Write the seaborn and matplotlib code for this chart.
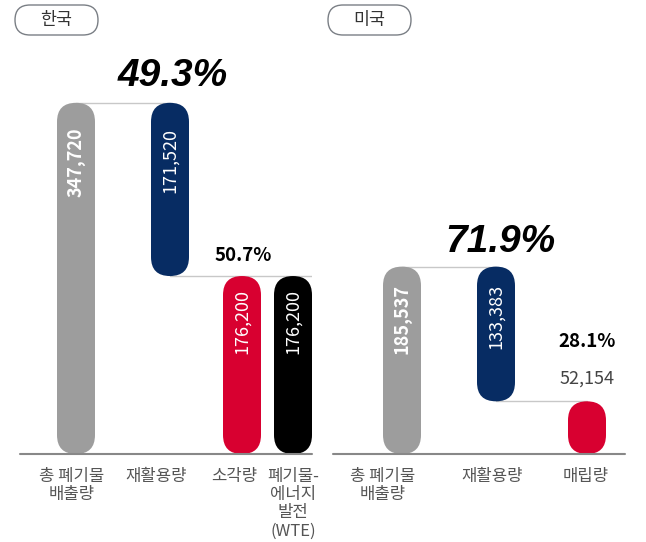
import matplotlib
matplotlib.use("Agg")
import matplotlib.pyplot as plt
from matplotlib.patches import FancyBboxPatch
import pandas as pd
import seaborn as sns

# ---- data (thousand tons) ----
kr_labels = ["총 폐기물\n배출량", "재활용량", "소각량", "폐기물-\n에너지\n발전\n(WTE)"]
kr_values = [347720, 171520, 176200, 176200]
kr_bottoms = [0, kr_values[0] - kr_values[1], 0, 0]

us_labels = ["총 폐기물\n배출량", "재활용량", "매립량"]
us_values = [185537, 133383, 52154]
us_bottoms = [0, us_values[0] - us_values[1], 0]

kr_shares = ["49.3%", "50.7%"]
us_shares = ["71.9%", "28.1%"]

GRAY, NAVY, RED, BLACK = "#9d9d9d", "#072c63", "#d80030", "#000000"
kr_colors = [GRAY, NAVY, RED, BLACK]
us_colors = [GRAY, NAVY, RED]

sns.set_theme(style="white")
plt.rcParams["font.family"] = ["Noto Sans CJK KR", "DejaVu Sans"]

W, H = 646, 542
fig = plt.figure(figsize=(W / 100, H / 100), dpi=100)

BASE_Y, TOP_Y = 454, 50      # pixel rows of y=0 and y=YMAX
YMAX = 400000
PANEL_W = 292
BAR_W = 38


def make_ax(left_px):
    ax = fig.add_axes([left_px / W, (H - BASE_Y) / H, PANEL_W / W, (BASE_Y - TOP_Y) / H])
    return ax


def draw_panel(ax, labels, values, bottoms, colors, centers, label_pos):
    tops = [b + v for b, v in zip(bottoms, values)]
    df = pd.DataFrame({"label": labels, "top": tops})
    sns.barplot(data=df, x="label", y="top", hue="label", palette=colors,
                legend=False, errorbar=None, saturation=1, ax=ax)
    ax.set_xlim(0, PANEL_W)
    ax.set_ylim(0, YMAX)

    # make the bars round-ended pills at the given centres
    aspect = YMAX / (BASE_Y - TOP_Y)
    for p, c, b, v in zip(list(ax.patches), centers, bottoms, values):
        col = p.get_facecolor()
        p.remove()
        pill = FancyBboxPatch((c - BAR_W / 2, b), BAR_W, v,
                              boxstyle=f"round,pad=0,rounding_size={BAR_W / 2}",
                              mutation_aspect=aspect, facecolor=col,
                              edgecolor="none", zorder=3)
        ax.add_patch(pill)

    ax.set_xticks(label_pos)
    ax.set_xticklabels(labels, fontsize=12, color="#555555", linespacing=1.1,
                       va="top")
    ax.tick_params(axis="x", length=0, pad=10)
    ax.set_xlabel("")
    ax.set_ylabel("")
    ax.set_yticks([])
    for s in ax.spines.values():
        s.set_visible(False)
    ax.axhline(0, color="#888888", lw=1.5, clip_on=False, zorder=4)
    return tops


def value_labels(ax, centers, tops, values, pads, bold):
    for c, t, v, pad, b in zip(centers, tops, values, pads, bold):
        ax.annotate(f"{v:,}", (c, t), xytext=(0, -pad * 0.72), textcoords="offset points",
                    rotation=90, ha="center", va="top", color="white", fontsize=13,
                    fontweight="bold" if b else "light", zorder=5)


# ---- Korea ----
ax1 = make_ax(20)
kr_centers = [56, 150, 222, 273]
kr_tops = draw_panel(ax1, kr_labels, kr_values, kr_bottoms, kr_colors, kr_centers,
                     [52, 136, 214, 273])
ax1.plot([kr_centers[0], kr_centers[1]], [kr_values[0]] * 2, color="#c8c8c8", lw=1, zorder=1)
ax1.plot([kr_centers[1], PANEL_W], [kr_bottoms[1]] * 2, color="#c8c8c8", lw=1, zorder=1)
value_labels(ax1, kr_centers, kr_tops, kr_values, [25, 25, 13, 13],
             [True, False, False, False])
ax1.annotate(kr_shares[0], (kr_centers[1], kr_tops[1]), xytext=(2, 19),
             textcoords="offset points", ha="center", va="center", fontsize=28,
             fontweight="bold", fontstyle="italic", family="Liberation Sans",
             color="black")
ax1.annotate(kr_shares[1], (kr_centers[2], kr_tops[2]), xytext=(1, 15),
             textcoords="offset points", ha="center", va="center", fontsize=13.5,
             fontweight="bold", color="black")

# ---- USA ----
ax2 = make_ax(333)
us_centers = [69, 163, 254]
us_tops = draw_panel(ax2, us_labels, us_values, us_bottoms, us_colors, us_centers,
                     [50, 159, 253])
ax2.plot([us_centers[0], us_centers[1]], [us_values[0]] * 2, color="#c8c8c8", lw=1, zorder=1)
ax2.plot([us_centers[1], us_centers[2]], [us_bottoms[1]] * 2, color="#c8c8c8", lw=1, zorder=1)
value_labels(ax2, us_centers[:2], us_tops[:2], us_values[:2], [17, 17], [True, False])
ax2.annotate(us_shares[0], (us_centers[1], us_tops[1]), xytext=(3, 18),
             textcoords="offset points", ha="center", va="center", fontsize=28,
             fontweight="bold", fontstyle="italic", family="Liberation Sans",
             color="black")
ax2.annotate(us_shares[1], (us_centers[2], us_tops[2]), xytext=(0, 43),
             textcoords="offset points", ha="center", va="center", fontsize=13.5,
             fontweight="bold", color="black")
ax2.annotate(f"{us_values[2]:,}", (us_centers[2], us_tops[2]), xytext=(0, 16),
             textcoords="offset points", ha="center", va="center", fontsize=13,
             color="#444444")

# ---- country pills ----
for x_px, name in [(15, "한국"), (328, "미국")]:
    pill = FancyBboxPatch((x_px / 100, (H - 35) / 100), 0.83, 0.30,
                          boxstyle="round,pad=0,rounding_size=0.15",
                          transform=fig.dpi_scale_trans, facecolor="white",
                          edgecolor="#7a7f85", lw=1)
    fig.add_artist(pill)
    fig.text((x_px + 41.5) / W, (H - 20) / H, name, ha="center", va="center",
             fontsize=12.5, color="#333333")

fig.savefig("out.png", dpi=100)
